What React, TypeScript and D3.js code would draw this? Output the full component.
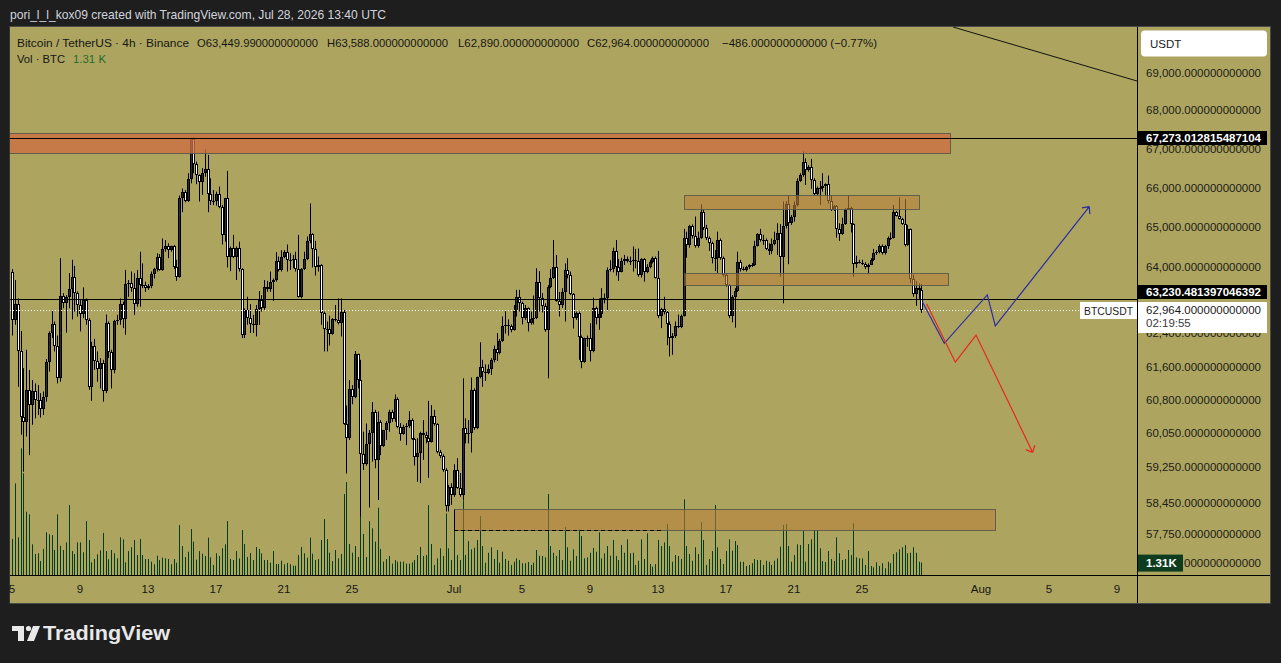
import * as d3 from "d3";

const W = 1281;
const H = 663;
const PLOT = { left: 10, right: 1137, top: 27, bottom: 575 };
const FONT = "'Liberation Sans', Arial, sans-serif";

// 4h bars, first one Jun 5 2026 00:00 UTC
const firstBar = Date.UTC(2026, 5, 5);
const barMs = 4 * 3600 * 1000;
const barTime = (i: number) => new Date(firstBar + i * barMs);
const utc = (mo: number, day: number, h = 0, m = 0) => new Date(Date.UTC(2026, mo - 1, day, h, m));

const opens = [
  63900, 62720, 63100, 61960, 60420, 60290, 61050, 60690, 61010, 60800,
  60810, 60600, 60870, 61700, 62390, 62610, 62100, 61320, 63310, 63120,
  63270, 63460, 63760, 63370, 63080, 62850, 63200, 62720, 61120, 62100,
  61720, 61540, 61680, 61010, 62640, 61940, 61510, 62680, 62720, 63100,
  62730, 63590, 63610, 63500, 63100, 63750, 63570, 63580, 63500, 63540,
  63830, 63960, 64270, 63940, 64460, 64520, 64430, 64520, 64000, 63770,
  65730, 65900, 65660, 66210, 67250, 66600, 66330, 66140, 66370, 66470,
  65830, 65660, 65650, 65830, 65520, 64810, 65730, 64270, 64490, 64270,
  64490, 63960, 62360, 62960, 62760, 62610, 62600, 62980, 63200, 63000,
  63530, 63470, 63630, 63680, 64160, 63930, 64270, 64390, 64190, 64180,
  64200, 63960, 63280, 63960, 64200, 64660, 64820, 64450, 64020, 64060,
  62880, 62500, 62510, 62370, 62730, 62720, 62640, 62900, 60250, 59930,
  61060, 60870, 61890, 61280, 59550, 59320, 59780, 60030, 60520, 59420,
  60300, 59750, 60100, 60280, 60540, 60370, 60830, 60170, 60020, 60190,
  60210, 60340, 59900, 59480, 59570, 60030, 60000, 59930, 59840, 60440,
  60250, 59610, 59520, 59190, 58380, 58810, 58610, 59190, 58790, 58620,
  60150, 60010, 60030, 61050, 60150, 61340, 61600, 61480, 61440, 61540,
  61760, 62020, 61920, 62210, 62570, 62600, 62560, 62480, 62930, 63280,
  63120, 62760, 63000, 62640, 62740, 62770, 63630, 63260, 63060, 62480,
  63530, 63730, 64020, 63180, 63080, 63390, 63940, 63820, 63340, 62760,
  62880, 62310, 61700, 62270, 62280, 61960, 63000, 62770, 62850, 63240,
  63260, 63940, 63960, 64410, 64020, 63900, 64160, 64200, 64160, 64170,
  64190, 64160, 63820, 64200, 63880, 64000, 64140, 64230, 63750, 62820,
  62980, 62920, 62610, 62270, 62340, 62560, 62550, 62820, 64720, 64560,
  65020, 64770, 64520, 64720, 65390, 64970, 64740, 64600, 64230, 64240,
  64680, 64240, 63820, 63570, 62820, 63280, 63420, 64140, 63960, 63940,
  64000, 64050, 64060, 64540, 64820, 64680, 64690, 64460, 64400, 64570,
  64680, 64850, 64270, 65020, 65580, 65120, 65270, 65560, 66170, 66330,
  66650, 66450, 66540, 66200, 65830, 66000, 65990, 66040, 66090, 65650,
  65440, 65540, 64960, 64830, 65070, 65440, 65480, 65070, 64080, 64130,
  64120, 64080, 64000, 64060, 64190, 64350, 64390, 64540, 64350, 64520,
  64720, 64740, 65380, 65290, 65210, 65070, 64560, 64960, 63720, 63340,
  63490, 63449.99,
];

const highs = [
  63960, 63690, 63240, 62450, 61560, 62000, 61520, 61280, 61200, 61160,
  60970, 61010, 61780, 62440, 62960, 62680, 62340, 64230, 63370, 63320,
  63860, 64190, 64040, 63410, 63200, 63510, 63240, 62760, 62190, 62260,
  61960, 61800, 61760, 62850, 62680, 62000, 62720, 62840, 63240, 63160,
  63940, 63690, 63900, 63860, 63940, 64390, 64100, 63650, 63590, 63900,
  63990, 64350, 64330, 64720, 64680, 64600, 64540, 64560, 64190, 65800,
  65980, 65940, 66370, 67290, 67290, 66670, 66340, 66500, 66990, 66840,
  66240, 65940, 65900, 66030, 65560, 65730, 66430, 64520, 64810, 64520,
  64640, 63980, 63000, 63280, 63100, 62840, 63080, 63420, 63320, 63690,
  63670, 63900, 63730, 64380, 64270, 64430, 64430, 64570, 64350, 64310,
  64390, 64810, 63980, 64390, 64770, 65600, 64850, 64660, 64270, 64080,
  62920, 62680, 62820, 62760, 63080, 63240, 63240, 62960, 60680, 61280,
  61160, 61970, 61910, 61760, 60070, 60260, 60110, 60760, 60580, 60540,
  60340, 60110, 60320, 60580, 60580, 60940, 60870, 60270, 60230, 60270,
  60550, 60380, 59930, 59920, 60070, 60340, 60070, 60790, 60690, 60580,
  60270, 59650, 59550, 59230, 58850, 58890, 59320, 59460, 59120, 61320,
  60380, 60340, 61340, 61080, 61360, 62180, 61760, 61650, 61650, 61800,
  62100, 62400, 62260, 62800, 62930, 62730, 62610, 63080, 63450, 63450,
  63160, 63080, 63020, 62920, 63310, 63980, 63910, 63370, 63120, 63570,
  63960, 64680, 64310, 63400, 63490, 64100, 64230, 63900, 63370, 62920,
  62920, 62340, 62290, 62340, 62640, 63260, 63040, 63240, 63490, 63360,
  64000, 64180, 64490, 64680, 64210, 64240, 64310, 64270, 64270, 64520,
  64460, 64470, 64230, 64230, 64080, 64190, 64270, 64270, 64410, 63010,
  63280, 62960, 62680, 62400, 62680, 62850, 62850, 64960, 64890, 65060,
  65070, 65270, 64890, 65580, 65440, 65060, 64770, 64640, 64430, 64890,
  64720, 64270, 63860, 63590, 63320, 63490, 64390, 64190, 64020, 64040,
  64080, 64110, 64660, 64850, 64960, 64810, 64720, 64600, 64720, 64890,
  65100, 65080, 65650, 65660, 65800, 65310, 65650, 66240, 66370, 66940,
  66750, 66580, 66740, 66240, 66030, 66170, 66370, 66110, 66310, 65800,
  65560, 65560, 65100, 65240, 65480, 65800, 65520, 65100, 64290, 64190,
  64190, 64130, 64100, 64230, 64460, 64430, 64570, 64570, 64560, 64770,
  64870, 65560, 65410, 65750, 65240, 65710, 65060, 64970, 63820, 63670,
  63610, 63588,
];

const lows = [
  62340, 62600, 61120, 60000, 59150, 59960, 59530, 60230, 60380, 60460,
  60400, 60460, 60770, 61480, 62280, 61960, 61200, 61240, 63000, 62410,
  63000, 62730, 62920, 62800, 62440, 62760, 62600, 61050, 60790, 61520,
  61240, 61080, 60770, 60970, 61800, 61080, 61440, 62600, 62600, 62520,
  62360, 63280, 63400, 62840, 63040, 63040, 63490, 63400, 63450, 63490,
  63730, 63900, 63920, 63920, 64390, 64230, 64390, 63960, 63670, 63750,
  65380, 65630, 65640, 66110, 66370, 66090, 65650, 65820, 66280, 65380,
  65560, 65560, 65545, 65480, 64570, 64640, 64000, 63910, 64230, 63690,
  63900, 62280, 62280, 62600, 62400, 62400, 62320, 62600, 62920, 62960,
  63400, 63400, 63180, 63650, 63900, 63900, 64230, 63900, 63940, 63980,
  63900, 63260, 63240, 63940, 64180, 64600, 64000, 63800, 63900, 62600,
  61960, 61960, 62100, 62360, 62680, 62610, 62320, 60230, 59110, 59880,
  60710, 60850, 61080, 58140, 59190, 59290, 58340, 59380, 59230, 58510,
  59530, 59720, 59880, 60070, 60300, 60300, 60150, 59860, 60000, 59760,
  60160, 59880, 59290, 58920, 58890, 59420, 59800, 59010, 59820, 60210,
  59570, 59460, 59150, 58250, 58250, 58400, 58580, 58760, 58580, 58510,
  59800, 59800, 59590, 60110, 60130, 61320, 61120, 61260, 61420, 61400,
  61700, 61730, 61890, 62190, 62390, 62340, 62420, 62460, 62800, 62920,
  62610, 62720, 62440, 62600, 62610, 62740, 62920, 62900, 62430, 61320,
  63490, 63720, 63160, 62800, 63010, 62680, 63730, 63320, 62510, 62720,
  61760, 61560, 61690, 62070, 61720, 61940, 62610, 62480, 62770, 63120,
  62930, 63900, 63880, 63800, 63670, 63880, 64060, 64120, 64060, 63900,
  63980, 63770, 63750, 63650, 63860, 63980, 64100, 63730, 62760, 62520,
  62850, 62110, 61840, 61880, 62280, 62520, 62520, 62800, 64240, 64490,
  64720, 64490, 64490, 64710, 64930, 64680, 64410, 64100, 63910, 63860,
  64190, 63770, 63530, 62760, 62660, 62530, 63400, 63900, 63920, 63900,
  63960, 64010, 64040, 64520, 64640, 64560, 64430, 64310, 64330, 64550,
  64310, 63770, 63120, 64970, 64080, 65060, 65140, 65520, 66150, 66280,
  66070, 66410, 65970, 65800, 65810, 65560, 65900, 65810, 65600, 65410,
  65410, 64740, 64660, 64810, 65060, 65440, 64870, 63770, 63990, 64100,
  64060, 63960, 63830, 64060, 64160, 64310, 64350, 64320, 64320, 64460,
  64680, 64720, 65270, 65190, 65060, 64520, 64540, 63610, 63280, 63060,
  63230, 62890,
];

const closes = [
  62720, 63100, 61960, 60420, 60290, 61050, 60690, 61010, 60800, 60810,
  60600, 60870, 61700, 62390, 62610, 62100, 61320, 63310, 63120, 63270,
  63460, 63760, 63370, 63080, 62850, 63200, 62720, 61120, 62100, 61720,
  61540, 61680, 61010, 62640, 61940, 61510, 62680, 62720, 63100, 62730,
  63590, 63610, 63500, 63100, 63750, 63570, 63580, 63500, 63540, 63830,
  63960, 64270, 63940, 64460, 64520, 64430, 64520, 64000, 63770, 65730,
  65900, 65660, 66210, 67250, 66600, 66330, 66140, 66370, 66470, 65830,
  65660, 65650, 65830, 65520, 64810, 65730, 64270, 64490, 64270, 64490,
  63960, 62360, 62960, 62760, 62610, 62600, 62980, 63200, 63000, 63530,
  63470, 63630, 63680, 64160, 63930, 64270, 64390, 64190, 64180, 64200,
  63960, 63280, 63960, 64200, 64660, 64820, 64450, 64020, 64060, 62880,
  62500, 62510, 62370, 62730, 62720, 62640, 62900, 60250, 59930, 61060,
  60870, 61890, 61280, 59550, 59320, 59780, 60030, 60520, 59420, 60300,
  59750, 60100, 60280, 60540, 60370, 60830, 60170, 60020, 60190, 60210,
  60340, 59900, 59480, 59570, 60030, 60000, 59930, 59840, 60440, 60250,
  59610, 59520, 59190, 58380, 58810, 58610, 59190, 58790, 58620, 60150,
  60010, 60030, 61050, 60150, 61340, 61600, 61480, 61440, 61540, 61760,
  62020, 61920, 62210, 62570, 62600, 62560, 62480, 62930, 63280, 63120,
  62760, 63000, 62640, 62740, 62770, 63630, 63260, 63060, 62480, 63530,
  63730, 64020, 63180, 63080, 63390, 63940, 63820, 63340, 62760, 62880,
  62310, 61700, 62270, 62280, 61960, 63000, 62770, 62850, 63240, 63260,
  63940, 63960, 64410, 64020, 63900, 64160, 64200, 64160, 64170, 64190,
  64160, 63820, 64200, 63880, 64000, 64140, 64230, 63750, 62820, 62980,
  62920, 62610, 62270, 62340, 62560, 62550, 62820, 64720, 64560, 65020,
  64770, 64520, 64720, 65390, 64970, 64740, 64600, 64230, 64240, 64680,
  64240, 63820, 63570, 62820, 63280, 63420, 64140, 63960, 63940, 64000,
  64050, 64060, 64540, 64820, 64680, 64690, 64460, 64400, 64570, 64680,
  64850, 64270, 65020, 65580, 65120, 65270, 65560, 66170, 66330, 66650,
  66450, 66540, 66200, 65830, 66000, 65990, 66040, 66090, 65650, 65440,
  65540, 64960, 64830, 65070, 65440, 65480, 65070, 64080, 64130, 64120,
  64080, 64000, 64060, 64190, 64350, 64390, 64540, 64350, 64520, 64720,
  64740, 65380, 65290, 65210, 65070, 64560, 64960, 63720, 63340, 63490,
  63450, 62964,
];

// volume in BTC
const volumes = [
  3800, 9680, 3980, 13380, 10740, 6690, 6410, 3240, 2220, 2290,
  1480, 2750, 4510, 4300, 4220, 2640, 6410, 3090, 2640, 3450,
  7390, 2530, 2220, 3450, 3450, 2400, 5700, 3700, 1340, 1690,
  2190, 2610, 4440, 2530, 1660, 2640, 2290, 1760, 3980, 3770,
  1340, 2530, 2930, 3700, 2110, 3800, 2110, 1690, 1690, 1400,
  1130, 2040, 1580, 1830, 1760, 1690, 1130, 1690, 1300, 5280,
  3060, 1900, 2460, 4860, 3520, 1620, 2530, 2250, 2010, 3940,
  1870, 1060, 2290, 2010, 2820, 3240, 5700, 1690, 1580, 2530,
  1760, 4750, 3270, 1900, 2320, 1580, 2960, 2750, 2290, 1580,
  1580, 1300, 2530, 1160, 1160, 1510, 1130, 1270, 1130, 980,
  980, 2110, 2960, 2290, 1830, 3940, 2250, 1580, 1690, 3700,
  5910, 3800, 2360, 1480, 2640, 1760, 2220, 8550, 9820, 3270,
  2360, 3060, 1900, 6260, 4330, 1900, 5700, 4930, 3520, 7110,
  2750, 1410, 1690, 2010, 1200, 1580, 1410, 1410, 1410, 1200,
  1200, 1340, 1580, 2110, 2960, 2010, 2110, 7390, 3270, 1060,
  1760, 2820, 2010, 6500, 2820, 1580, 4650, 2110, 1580, 7900,
  2110, 3590, 2710, 2880, 3700, 6230, 3060, 1300, 2350, 2930,
  1690, 2640, 1300, 2460, 1690, 1510, 1060, 1400, 1760, 1580,
  1240, 1240, 1370, 1060, 1300, 2640, 2040, 2010, 1870, 8550,
  3060, 2350, 2010, 2640, 1580, 5070, 2930, 1510, 2710, 2010,
  4830, 4120, 1760, 1870, 2350, 2850, 2460, 4510, 1760, 2290,
  3060, 2040, 3700, 2010, 1580, 3170, 2350, 3770, 2290, 2350,
  1060, 1510, 3770, 1690, 4400, 1160, 880, 1160, 3700, 3060,
  3450, 5390, 3060, 1400, 2110, 2010, 1690, 7990, 3060, 2220,
  1510, 2930, 2220, 5570, 3700, 1060, 1690, 2530, 7390, 2930,
  1690, 1160, 2530, 3770, 2570, 3590, 3170, 1400, 1400, 950,
  1060, 1240, 1690, 1580, 1580, 1060, 1510, 1400, 1060, 1510,
  1760, 2990, 5280, 5390, 3060, 1400, 2110, 3240, 3170, 4650,
  1400, 3270, 3770, 4750, 4750, 2820, 1480, 1370, 2530, 1690,
  1480, 3980, 2290, 1580, 1690, 2640, 2110, 5460, 1870, 1760,
  1760, 1060, 2530, 950, 810, 1340, 950, 1240, 710, 1400,
  1240, 2220, 2400, 2710, 2930, 3170, 2290, 2350, 2930, 2350,
  1400, 1310,
];

const priceTicks = [69000, 68000, 67000, 66000, 65000, 64000, 63000, 62400, 61600, 60800, 60050, 59250, 58450, 57750];
// lowest tick sits under the volume label: only its tail shows
const tailTick = 57100;
const dateTicks = [
  utc(6, 5), utc(6, 9), utc(6, 13), utc(6, 17), utc(6, 21), utc(6, 25),
  utc(7, 1), utc(7, 5), utc(7, 9), utc(7, 13), utc(7, 17), utc(7, 21), utc(7, 25),
  utc(8, 1), utc(8, 5), utc(8, 9),
];

const levelLines = [
  { price: 67273.012815487104, label: "67,273.012815487104" },
  { price: 63230.481397046392, label: "63,230.481397046392", labelShift: -7 },
];
const lastPrice = 62964;

const zones = [
  { start: utc(6, 1), end: utc(7, 30, 4, 20), top: 67410, bottom: 66890, fill: "#cb6f42", opacity: 0.8 },
  { start: utc(7, 14, 12, 45), end: utc(7, 28, 8, 30), top: 65815, bottom: 65460, fill: "#b7803c", opacity: 0.6 },
  { start: utc(7, 14, 12, 45), end: utc(7, 30, 1, 0), top: 63863, bottom: 63569, fill: "#b7803c", opacity: 0.6 },
  { start: utc(7, 1), end: utc(8, 1, 20, 25), top: 58303, bottom: 57824, fill: "#b7803c", opacity: 0.6 },
];

const bullPath: [Date, number][] = [
  [utc(7, 28, 13, 10), 63161],
  [utc(7, 29, 20, 10), 62155],
  [utc(8, 1, 8, 55), 63325],
  [utc(8, 1, 20, 10), 62572],
  [utc(8, 7, 8, 55), 65519],
];
const bearPath: [Date, number][] = [
  [utc(7, 28, 19, 25), 63106],
  [utc(7, 30, 11, 45), 61703],
  [utc(7, 31, 17, 0), 62352],
  [utc(8, 4, 1, 0), 59592],
];
const trendLine: [Date, number][] = [
  [utc(7, 30, 8, 30), 70222],
  [utc(8, 10, 4, 20), 68774],
];

const x = d3.scaleUtc().domain([utc(6, 9), utc(7, 25)]).range([80, 862]);
const y = d3.scaleLog().domain([57750, 69000]).range([533.8, 72.5]);
const vy = d3.scaleLinear().domain([0, 1310]).range([PLOT.bottom, 562.6]);

const fmtPrice = (v: number) => d3.format(",")(v) + ".000000000000";
const fmtDate = (d: Date) => (d.getUTCDate() === 1 ? d3.utcFormat("%b")(d) : String(d.getUTCDate()));

function arrowHead(pts: [Date, number][]) {
  const [a, b] = pts.slice(-2).map(([t, p]) => [x(t), y(p)]);
  const ang = Math.atan2(a[1] - b[1], a[0] - b[0]);
  const len = 7.5;
  const spread = (42 * Math.PI) / 180;
  return [ang - spread, ang + spread]
    .map((t) => `M${b[0] + len * Math.cos(t)},${b[1] + len * Math.sin(t)}L${b[0]},${b[1]}`)
    .join("");
}

const pathLine = d3
  .line<[Date, number]>()
  .x((d) => x(d[0]))
  .y((d) => y(d[1]));

export default function App() {
  const pw = PLOT.right - PLOT.left;
  const ph = PLOT.bottom - PLOT.top;
  const lastY = Math.round(y(lastPrice));
  const volLabelY = vy(volumes[volumes.length - 1]);

  return (
    <div style={{ position: "absolute", left: 0, top: 0 }}>
      <svg width={W} height={H} style={{ display: "block", fontFamily: FONT }}>
        <defs>
          <clipPath id="plot">
            <rect x={PLOT.left} y={PLOT.top} width={pw} height={ph} />
          </clipPath>
        </defs>
        <rect width={W} height={H} fill="#1e1e1e" />
        <rect x={10} y={27} width={1260} height={576} fill="#ada55f" />
        <rect x={9.5} y={26.5} width={1261} height={577} fill="none" stroke="#4a4a4a" />

        <text x={10} y={18.5} fontSize={13} fill="#d1d4dc" textLength={376} lengthAdjust="spacingAndGlyphs">
          pori_l_l_kox09 created with TradingView.com, Jul 28, 2026 13:40 UTC
        </text>

        <g clipPath="url(#plot)">
          {volumes.map((v, i) => {
            const cx = Math.round(x(barTime(i))) + 0.5;
            return <line key={i} x1={cx} x2={cx} y1={PLOT.bottom} y2={vy(v)} stroke="#003f1a" />;
          })}

          {opens.map((o, i) => {
            const c = closes[i];
            const cx = Math.round(x(barTime(i)));
            const top = Math.round(y(Math.max(o, c)));
            const bot = Math.round(y(Math.min(o, c)));
            const h = Math.max(1, bot - top);
            const up = c >= o;
            return (
              <g key={i}>
                <line x1={cx + 0.5} x2={cx + 0.5} y1={y(Math.max(highs[i], o, c))} y2={y(Math.min(lows[i], o, c))} stroke="#000" />
                <rect x={cx - 1} y={top} width={3} height={h} fill="#000" />
                {h > 2 && <rect x={cx} y={top + 1} width={1} height={h - 2} fill={up ? "#2b2b2b" : "#ffffff"} />}
              </g>
            );
          })}

          {zones.map((z, i) => (
            <rect
              key={i}
              x={Math.round(x(z.start)) + 0.5}
              y={Math.round(y(z.top)) + 0.5}
              width={Math.round(x(z.end)) - Math.round(x(z.start))}
              height={Math.round(y(z.bottom)) - Math.round(y(z.top))}
              fill={z.fill}
              fillOpacity={z.opacity}
              stroke="#55554a"
              strokeOpacity={0.85}
            />
          ))}

          {/* range marker on the lower zone */}
          <line
            x1={Math.round(x(zones[3].start)) + 0.5}
            x2={Math.round(x(zones[3].start)) + 0.5}
            y1={Math.round(y(zones[3].top)) + 0.5}
            y2={Math.round(y(zones[3].bottom)) + 0.5}
            stroke="#000"
          />
          <line
            x1={x(zones[3].start)}
            x2={x(utc(7, 13, 8, 30))}
            y1={Math.round(y(zones[3].bottom)) + 0.5}
            y2={Math.round(y(zones[3].bottom)) + 0.5}
            stroke="#000"
            strokeDasharray="4 3"
          />

          {levelLines.map((l) => (
            <line key={l.price} x1={PLOT.left} x2={PLOT.right} y1={Math.round(y(l.price)) + 0.5} y2={Math.round(y(l.price)) + 0.5} stroke="#000" />
          ))}
          <line x1={PLOT.left} x2={PLOT.right} y1={lastY + 0.5} y2={lastY + 0.5} stroke="#fff" strokeDasharray="1 2" />

          <path d={pathLine(trendLine) ?? ""} fill="none" stroke="#111" strokeWidth={1} />
          <path d={(pathLine(bullPath) ?? "") + arrowHead(bullPath)} fill="none" stroke="#2b2ba6" strokeWidth={1.2} />
          <path d={(pathLine(bearPath) ?? "") + arrowHead(bearPath)} fill="none" stroke="#e8261e" strokeWidth={1.2} />
        </g>

        {/* symbol label at the right of the plot */}
        <rect x={1080} y={lastY - 8} width={57} height={17} fill="#fff" />
        <text x={1084} y={lastY + 4.5} fontSize={11} fill="#1c1c1c" textLength={49} lengthAdjust="spacingAndGlyphs">
          BTCUSDT
        </text>

        {/* legend */}
        <g fontSize={11.5} fill="#161616">
          <text x={17} y={46.5} textLength={172} lengthAdjust="spacingAndGlyphs">Bitcoin / TetherUS · 4h · Binance</text>
          <text x={197} y={46.5} textLength={121} lengthAdjust="spacingAndGlyphs">O63,449.990000000000</text>
          <text x={327} y={46.5} textLength={121} lengthAdjust="spacingAndGlyphs">H63,588.000000000000</text>
          <text x={458} y={46.5} textLength={121} lengthAdjust="spacingAndGlyphs">L62,890.000000000000</text>
          <text x={587} y={46.5} textLength={122} lengthAdjust="spacingAndGlyphs">C62,964.000000000000</text>
          <text x={722} y={46.5} textLength={155} lengthAdjust="spacingAndGlyphs">−486.000000000000 (−0.77%)</text>
          <text x={17} y={63} textLength={48} lengthAdjust="spacingAndGlyphs">Vol · BTC</text>
          <text x={73} y={63} textLength={33} lengthAdjust="spacingAndGlyphs" fill="#1f6b2c">1.31 K</text>
        </g>

        {/* axes frame */}
        <line x1={PLOT.right + 0.5} x2={PLOT.right + 0.5} y1={27} y2={603} stroke="#000" />
        <line x1={10} x2={1270} y1={PLOT.bottom + 0.5} y2={PLOT.bottom + 0.5} stroke="#000" />

        <g fontSize={11.5} fill="#161616">
          {dateTicks.map((d) => (
            <text key={+d} x={x(d)} y={593} textAnchor="middle">
              {fmtDate(d)}
            </text>
          ))}
        </g>
        <rect x={0} y={27} width={9.5} height={577} fill="#1e1e1e" />

        <g fontSize={11.5} fill="#1c1c1c">
          {priceTicks.map((p) => (
            <text key={p} x={1146} y={y(p)} dy="0.35em" textLength={115} lengthAdjust="spacingAndGlyphs">
              {fmtPrice(p)}
            </text>
          ))}
          <text x={1184} y={y(tailTick)} dy="0.35em" textLength={77} lengthAdjust="spacingAndGlyphs">
            {fmtPrice(tailTick).slice(fmtPrice(tailTick).indexOf(".") + 1)}
          </text>
        </g>

        <rect x={1141} y={30.5} width={126} height={26} rx={4} fill="#fff" />
        <text x={1150} y={48} fontSize={11.5} fill="#1c1c1c">USDT</text>

        {levelLines.map((l) => {
          const cy = Math.round(y(l.price)) + (l.labelShift ?? 0);
          return (
            <g key={l.label}>
              <rect x={1138} y={cy - 7} width={129} height={14} fill="#000" />
              <text x={1146} y={cy} dy="0.35em" fontSize={11.5} fontWeight={700} fill="#fff" textLength={115} lengthAdjust="spacingAndGlyphs">
                {l.label}
              </text>
            </g>
          );
        })}

        <rect x={1138} y={lastY - 8} width={129} height={31} fill="#fff" />
        <text x={1146} y={lastY} dy="0.35em" fontSize={11.5} fill="#1c1c1c" textLength={115} lengthAdjust="spacingAndGlyphs">
          {fmtPrice(lastPrice)}
        </text>
        <text x={1146} y={lastY + 13} dy="0.35em" fontSize={11.5} fill="#3a3a3a">02:19:55</text>

        <rect x={1138} y={volLabelY - 8} width={45} height={17} fill="#0d3d1e" />
        <text x={1146} y={volLabelY} dy="0.35em" fontSize={11.5} fontWeight={700} fill="#fff">
          1.31K
        </text>

        {/* footer logo */}
        <g fill="#e8e8e8">
          <path d="M12,626H24V641H18V631H12Z" />
          <circle cx={28.5} cy={628.5} r={2.6} />
          <path d="M33,626H40L34,641H27Z" />
          <text x={43} y={640} fontSize={20.5} fontWeight={700} textLength={127} lengthAdjust="spacingAndGlyphs">
            TradingView
          </text>
        </g>
      </svg>
    </div>
  );
}
